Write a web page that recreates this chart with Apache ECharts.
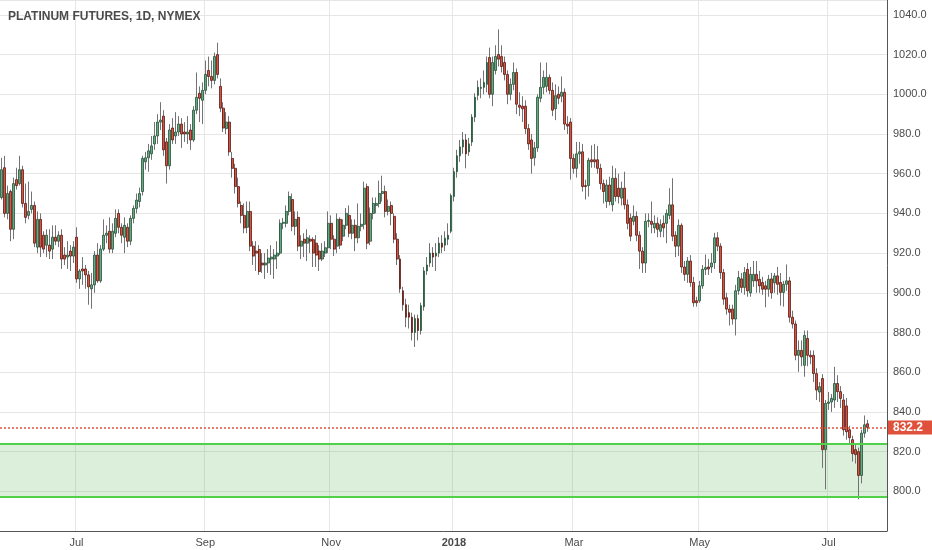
<!DOCTYPE html>
<html>
<head>
<meta charset="utf-8">
<title>Platinum Futures, 1D, NYMEX</title>
<script src="https://cdn.jsdelivr.net/npm/echarts@6/dist/echarts.min.js"></script>
<style>
  html, body { margin: 0; padding: 0; background: #ffffff; }
  #grafico { width: 932px; height: 550px; }
</style>
</head>
<body>
<div id="grafico"></div>
<script>
// Título do gráfico
const tituloGrafico = 'PLATINUM FUTURES, 1D, NYMEX';

// Pregões: dias úteis a partir do primeiro candle, sem os feriados da bolsa
const primeiroPregao = '2017-05-26';
const feriados = ['2017-05-29', '2017-07-04', '2017-09-04', '2017-11-23', '2017-12-25',
    '2018-01-01', '2018-01-15', '2018-02-19', '2018-03-30', '2018-05-28', '2018-07-04'];
const pregoesVaziosDireita = 6; // espaço livre depois do último candle
const nomesMeses = ['Jan', 'Feb', 'Mar', 'Apr', 'May', 'Jun', 'Jul', 'Aug', 'Sep', 'Oct', 'Nov', 'Dec'];

// Candles diários: [abertura, fechamento, mínima, máxima]
const candles = [
    [948, 962, 947, 968], [963, 940, 938, 969], [940, 950, 937, 954], [951, 932, 926, 952],
    [932, 955, 927, 958], [957, 954, 952, 963], [955, 962, 954, 969], [962, 945, 943, 964],
    [945, 938, 935, 955], [939, 941, 937, 956], [942, 944, 940, 951], [944, 925, 923, 946],
    [923, 937, 920, 941], [937, 923, 918, 940], [929, 922, 920, 931], [924, 929, 918, 932],
    [924, 921, 917, 932], [922, 928, 917, 934], [928, 926, 924, 934], [926, 929, 923, 931],
    [929, 917, 912, 932], [919, 917, 914, 923], [918, 919, 912, 926], [921, 918.5, 911, 924],
    [918.5, 923, 915, 926], [928, 907, 905, 933], [907, 911, 902, 912], [912, 911, 904, 918],
    [912, 909, 902, 914], [909, 903, 894, 911], [902, 904, 892, 910], [904, 919, 900, 921],
    [919, 906, 905, 925], [906, 922, 905, 924], [922, 929, 921, 937], [929, 930, 925, 934],
    [931, 922, 920, 938], [922, 931, 920, 935],
    // julho - agosto 2017
    [930, 937.5, 928, 942], [940, 933, 930, 942], [933, 929, 925, 935], [928, 934, 920, 938],
    [933, 926, 923, 935], [926, 937.5, 924, 939], [937.5, 942.5, 935, 944], [942.5, 946.7, 940, 950],
    [946, 950, 943, 953], [951, 967.7, 949, 969], [966, 968, 962, 971], [968, 971.5, 961, 975],
    [970, 974, 967, 979], [975, 979, 972, 986], [979, 986, 975, 990], [986, 987, 982, 996],
    [989, 972, 969, 992], [976, 964, 955, 978], [964, 982, 962, 985], [983, 977, 975, 988],
    [979, 981, 975, 991], [981, 985, 979, 989], [985, 980, 973, 988], [981, 980, 976, 986],
    [980, 981, 975, 989], [982, 977, 972, 985], [977, 992, 976, 994], [992, 998.5, 990, 1011],
    [1000.5, 998, 986, 1004], [997, 1002, 985, 1006], [1002, 1010, 1000, 1017], [1012, 1009, 1004, 1019],
    [1009, 1007, 1003, 1017], [1007, 1019, 1005, 1021], [1020, 1010, 1008, 1026], [1004, 993, 991, 1008],
    [993, 983, 981, 996], [982.7, 986, 980, 991],
    // setembro - outubro 2017
    [986, 971, 969, 989], [967.7, 962.7, 958, 971], [962.7, 953.5, 950, 965], [953.5, 945, 943, 958],
    [944, 939, 935, 946], [939, 932.7, 930, 945], [933, 941, 930, 946], [941, 923.5, 921, 946],
    [923.5, 918.5, 914, 926], [921, 920, 911, 926], [921.8, 910.7, 909, 924], [915, 914, 910, 920],
    [914, 915, 907, 920], [915, 917.5, 910, 922], [917, 918, 909, 924], [917, 919, 907, 922],
    [918.5, 920, 912, 926], [920, 935, 919, 937], [935, 935.5, 932, 937.7], [935, 941, 933, 944],
    [941, 948.5, 939, 951], [947, 933.5, 931, 950], [933.5, 937, 929, 941], [938, 923.5, 921, 941],
    [923.5, 926, 917, 929], [927, 925, 918, 930], [925, 927.7, 916, 932], [927, 926, 920, 929],
    [926.8, 920, 913, 928], [925, 919, 913, 929], [921, 917, 911, 924], [917, 921, 916, 925],
    [920, 922.7, 918, 926], [922.7, 935, 920, 941], [935, 927, 922, 939],
    // novembro - dezembro 2017
    [927, 922, 918.5, 929], [923.5, 937, 920, 940], [937, 924, 922, 938], [928.5, 934, 926, 937],
    [934, 940, 932, 942.7], [939, 930, 928, 944], [930, 934, 927, 937], [934, 927.7, 921, 937],
    [927.7, 933.5, 925, 945], [933.5, 934.5, 931, 940], [934.5, 952.7, 932, 956], [953.5, 925, 922, 955],
    [926, 940, 924, 943], [940, 945, 937, 948], [944, 945, 940, 948], [945, 950, 943, 956.5],
    [950, 951, 946, 959], [951, 941, 938, 954], [941, 943.5, 939, 947], [944, 940, 934, 946],
    [938.5, 927, 925, 940], [927, 917, 914, 930], [917, 902, 900, 919], [901, 894, 891, 903],
    [894, 887.7, 882.7, 897], [890, 887.7, 882, 894], [887.7, 880, 876, 890], [880, 887, 872.7, 889],
    [887, 881, 876, 889], [881, 893.5, 879, 895], [893, 911, 891, 913], [911, 914, 909, 918],
    [915, 920, 913, 925], [920, 918, 913, 923], [918.5, 920, 911, 925], [920, 925, 918, 928],
    [925, 923, 920, 929],
    // janeiro - fevereiro 2018
    [924, 927.5, 921, 931], [927, 929, 924, 935], [931, 949, 930, 950], [948.5, 961, 946, 963],
    [961, 969, 958, 972], [969, 973.5, 966, 977], [973.5, 977, 970, 981], [977, 970, 962.7, 980],
    [971, 975, 969, 978], [976, 988.5, 974, 990], [988.5, 998.5, 986, 1000.5], [999.5, 1003.5, 997, 1007],
    [1003, 1003.5, 998, 1008], [1003.5, 1006, 1000, 1012], [1005, 1016, 1001, 1019], [1018.5, 1000, 998, 1023.5],
    [1000, 1016, 994, 1019], [1012, 1019, 1010, 1024.7], [1020, 1017.7, 1014, 1032.7], [1019, 1014, 1011, 1024.7],
    [1016, 1010, 1007, 1019], [1010, 1000, 995, 1012], [1000, 1005, 997, 1008], [1005, 1011, 1002, 1016],
    [1011, 995, 990, 1013], [994.5, 993.5, 989, 1001], [994, 992.7, 986, 999], [994, 982.7, 980, 997],
    [982.7, 975, 972, 985], [977, 967.7, 960, 980], [968, 973, 964, 976], [973, 998.5, 971, 1000],
    [998, 1003.5, 996, 1016], [1003.5, 1008.5, 1000, 1012], [1004, 1008.5, 1001, 1016], [1008.5, 1002, 1000, 1010],
    [1002, 992, 989, 1006], [992.7, 999.3, 987, 1005],
    // março - abril 2018
    [1000, 998, 995, 1004], [999, 1001, 996, 1009], [1001, 985, 982, 1003], [985, 984, 980, 989],
    [986, 967.7, 957, 988], [967.7, 962.7, 960, 970], [962.7, 970, 958, 976], [970, 971, 965, 976],
    [971, 953.5, 951, 975], [954, 953.5, 947, 957], [954, 966.8, 948.5, 968], [967, 966, 963, 974.3],
    [967, 966, 963, 975], [967, 962.7, 960, 974], [962.7, 955, 952, 965], [955, 951, 945, 957],
    [946, 954.3, 942.7, 957], [954.3, 946, 944, 958.5], [944.3, 957.7, 941, 964], [957.7, 948.5, 946, 962.7],
    [952.7, 948.5, 945, 960], [947.7, 952.7, 944, 956], [952.7, 944.3, 942, 961], [944.3, 935, 932, 947],
    [937.7, 928.5, 926, 940], [936, 938.5, 934, 944], [938.5, 929, 926, 941], [929, 921, 912, 931],
    [921, 915, 910, 923], [915, 936, 910, 940], [936, 936.5, 933, 940], [936, 934.5, 930, 946],
    [932.7, 935, 930, 939], [935, 932, 928, 938],
    // abril - maio 2018
    [931, 934.3, 928, 937], [935, 932.7, 928, 939], [935, 940, 925, 942], [939, 944.3, 937, 952.7],
    [944.3, 928.5, 926, 957.7], [929, 923.5, 918, 931], [923.5, 934, 918.5, 937], [934, 913, 910, 935],
    [913, 909.3, 906, 916], [909.3, 916, 905, 918], [916, 905.2, 903, 919], [905.2, 895, 893, 908],
    [896, 895, 893, 898], [896, 903.5, 895, 906], [903.5, 911.8, 902, 914], [911.8, 912.7, 909, 919.3],
    [913, 912, 909, 917], [913, 915, 910, 920], [915.2, 927.7, 912, 930.2], [927.7, 923.5, 921, 930.5],
    [923.5, 910.2, 907, 925], [910.2, 896.8, 894, 912], [897.5, 891.8, 889, 900], [891.8, 890.2, 883.5, 894],
    [891.8, 886.8, 884, 894], [886.8, 901, 878.5, 904], [901, 907.7, 899, 911], [907, 902.7, 900, 910],
    [902.7, 910.2, 899, 913], [911.8, 901, 898, 915], [900, 909.3, 898, 913], [906, 909.3, 903, 916],
    [909.3, 906, 900, 916], [906.8, 903.5, 900, 911], [905.2, 901.8, 899, 908], [903.5, 901.8, 892.7, 906],
    [901.8, 906.8, 898, 909], [907, 900, 897, 910],
    // junho - julho 2018
    [905, 908.5, 900, 910], [908.5, 904.3, 899, 913], [905.2, 900.2, 893.5, 910], [900.2, 904.3, 893, 906],
    [904.3, 906, 901, 914.3], [906, 887.7, 885, 908], [887.7, 884.3, 882, 891], [884.3, 868.5, 866, 886],
    [868.5, 871, 860.2, 876], [871, 867.7, 863, 876], [863.5, 878.5, 857.7, 881], [877, 868.5, 863, 881],
    [868.5, 867.7, 864, 871], [868.5, 859.3, 855, 871], [859.3, 851, 846, 862], [850, 852.7, 845, 855],
    [856.8, 821, 811.8, 859], [821, 844.3, 801, 846], [844.3, 845, 841, 850], [845, 846.8, 840, 849],
    [846, 854.3, 842, 862.7], [854.3, 850.2, 845, 858.5], [850.2, 846.8, 842, 853], [846, 831, 828, 849],
    [843, 830, 826, 847], [831, 827, 824, 833], [826, 819, 815, 828], [821, 818.5, 814, 824],
    [820, 808, 796, 822], [808, 829.3, 804, 831], [829.3, 833.5, 827, 838.2], [834, 832.2, 830, 836]
];

// Faixa de suporte (linhas verdes) e último preço (linha pontilhada vermelha)
const suporteTopo = 824;
const suporteBase = 797.5;
const ultimoPreco = 832.2;

// Limites e passo do eixo de preço
const precoMinimo = 780;
const precoMaximo = 1047.5;
const passoPreco = 20;

// Monta a lista de pregões (dias úteis sem feriados)
function gerarPregoes(inicio, quantidade) {
    const lista = [];
    const dia = new Date(inicio + 'T00:00:00Z');
    while (lista.length < quantidade) {
        const texto = dia.toISOString().slice(0, 10);
        const semana = dia.getUTCDay();
        if (semana !== 0 && semana !== 6 && feriados.indexOf(texto) < 0) {
            lista.push(texto);
        }
        dia.setUTCDate(dia.getUTCDate() + 1);
    }
    return lista;
}

const datas = gerarPregoes(primeiroPregao, candles.length + pregoesVaziosDireita);

// Marca o primeiro pregão de cada mês ímpar (Jan, Mar, Mai, Jul, Set, Nov)
function ehInicioDeMesMarcado(indice) {
    if (indice === 0) return false;
    const mes = +datas[indice].slice(5, 7);
    const mesAnterior = +datas[indice - 1].slice(5, 7);
    return mes !== mesAnterior && mes % 2 === 1;
}

// Camada de pavios (cinza) e camada de corpos (sem pavio)
const pavios = candles.map(c => c.slice());
const corpos = candles.map(c => [c[0], c[1], Math.min(c[0], c[1]), Math.max(c[0], c[1])]);

const meuGrafico = echarts.init(document.getElementById('grafico'), null, { renderer: 'canvas' });

const opcoes = {
    backgroundColor: '#ffffff',
    animation: false,
    title: {
        text: tituloGrafico,
        left: 3,
        top: 6,
        textStyle: {
            fontFamily: 'Liberation Sans',
            fontSize: 12,
            fontWeight: 'bold',
            color: '#4b4b4b'
        }
    },
    grid: { left: 0, right: 45, top: 0, bottom: 19 },
    xAxis: {
        type: 'category',
        data: datas,
        boundaryGap: true,
        axisLine: { lineStyle: { color: '#555555', width: 1 } },
        axisTick: {
            alignWithLabel: true,
            length: 3,
            interval: (i) => ehInicioDeMesMarcado(i),
            lineStyle: { color: '#555555' }
        },
        axisLabel: {
            interval: (i) => ehInicioDeMesMarcado(i),
            margin: 6,
            fontFamily: 'Liberation Sans',
            fontSize: 11,
            color: '#4a4a4a',
            formatter: function (valor) {
                const mes = +valor.slice(5, 7);
                if (mes === 1) return '{ano|' + valor.slice(0, 4) + '}';
                return nomesMeses[mes - 1];
            },
            rich: {
                ano: { fontFamily: 'Liberation Sans', fontSize: 11, fontWeight: 'bold', color: '#4a4a4a' }
            }
        },
        splitLine: {
            show: true,
            interval: (i) => ehInicioDeMesMarcado(i),
            lineStyle: { color: '#e6e6e6', width: 1 }
        }
    },
    yAxis: {
        type: 'value',
        position: 'right',
        min: precoMinimo,
        max: precoMaximo,
        interval: passoPreco,
        axisLine: { show: true, lineStyle: { color: '#555555', width: 1 } },
        axisTick: { show: false },
        axisLabel: {
            showMinLabel: false,
            showMaxLabel: false,
            margin: 6,
            fontFamily: 'Liberation Sans',
            fontSize: 11,
            color: '#4a4a4a',
            formatter: (v) => v.toFixed(1)
        },
        splitLine: { show: true, lineStyle: { color: '#e6e6e6', width: 1 } }
    },
    series: [
        {
            name: 'pavios',
            type: 'candlestick',
            data: pavios,
            barWidth: 1,
            silent: true,
            itemStyle: {
                color: '#737375', color0: '#737375',
                borderColor: '#737375', borderColor0: '#737375',
                borderWidth: 1
            },
            markArea: {
                silent: true,
                itemStyle: { color: 'rgba(92, 184, 92, 0.22)' },
                data: [[{ yAxis: suporteBase }, { yAxis: suporteTopo }]]
            }
        },
        {
            name: 'corpos',
            type: 'candlestick',
            data: corpos,
            barWidth: 2.4,
            itemStyle: {
                color: '#6ba583', color0: '#d75442',
                borderColor: '#225437', borderColor0: '#5b1a13',
                borderWidth: 0.8
            },
            markLine: {
                silent: true,
                symbol: ['none', 'none'],
                lineStyle: { opacity: 1 },
                data: [
                    { yAxis: suporteTopo, lineStyle: { color: '#4fd14a', width: 2, type: 'solid', opacity: 1 }, label: { show: false } },
                    { yAxis: suporteBase, lineStyle: { color: '#4fd14a', width: 2, type: 'solid', opacity: 1 }, label: { show: false } },
                    {
                        yAxis: ultimoPreco,
                        lineStyle: { color: '#e0513b', width: 1.5, type: [2, 2], opacity: 1 },
                        label: {
                            show: true,
                            position: 'end',
                            distance: 1,
                            formatter: ultimoPreco.toFixed(1),
                            backgroundColor: '#e0513b',
                            color: '#ffffff',
                            fontFamily: 'Liberation Sans',
                            fontWeight: 'bold',
                            fontSize: 12,
                            lineHeight: 12,
                            padding: [1, 10, 1, 5]
                        }
                    }
                ]
            }
        }
    ]
};

meuGrafico.setOption(opcoes);
</script>
</body>
</html>
